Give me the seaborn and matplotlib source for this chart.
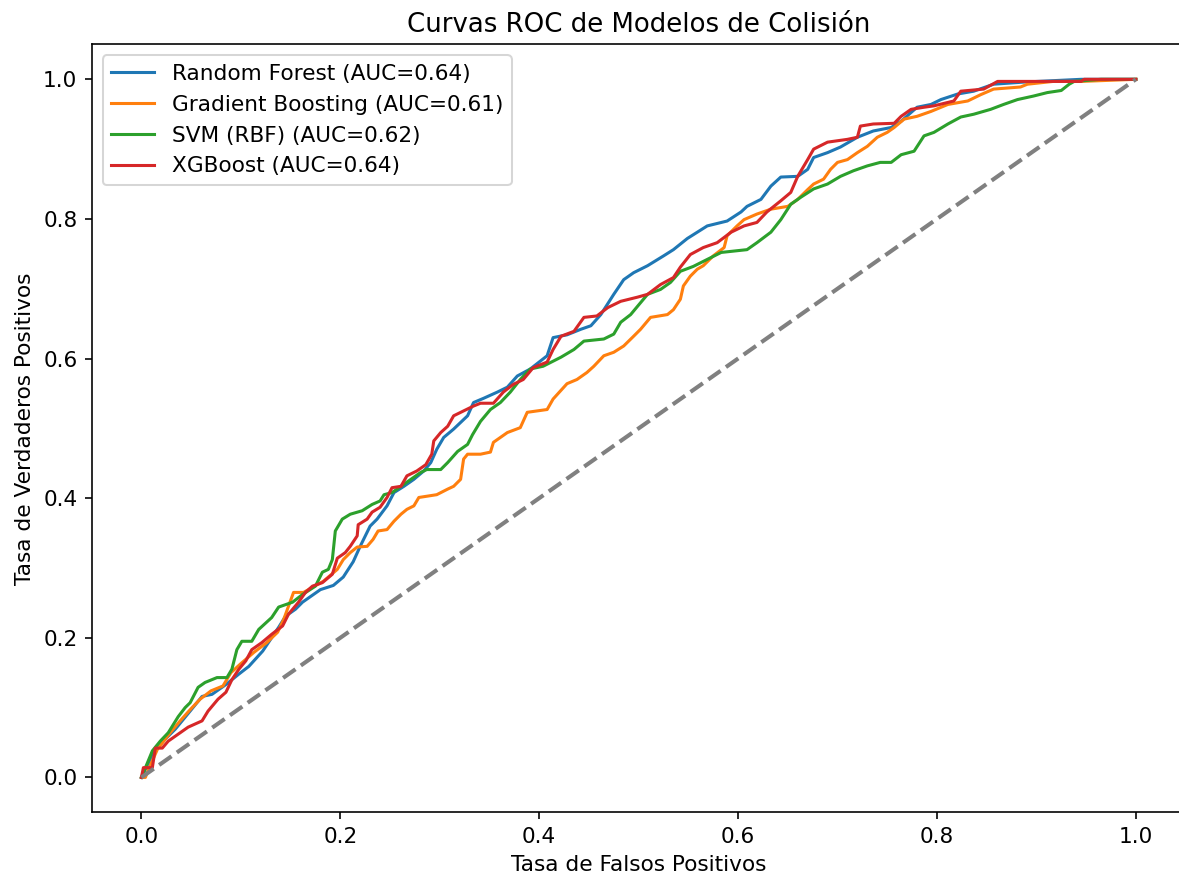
import numpy as np
import pandas as pd
import matplotlib
matplotlib.use("Agg")
import matplotlib.pyplot as plt
import seaborn as sns

plt.rcParams["font.size"] = 10.6

# valores (FPR, TPR) para cada modelo
rf_fpr = [0.0, 0.010, 0.017, 0.034, 0.049, 0.061, 0.071, 0.085, 0.098, 0.108, 0.122, 0.138, 0.145, 0.155,
          0.162, 0.180, 0.193, 0.203, 0.213, 0.220, 0.230, 0.237, 0.247, 0.254, 0.264, 0.274, 0.284, 0.291,
          0.297, 0.304, 0.314, 0.328, 0.334, 0.344, 0.358, 0.368, 0.378, 0.391, 0.408, 0.414, 0.428, 0.442,
          0.452, 0.462, 0.475, 0.485, 0.495, 0.509, 0.525, 0.535, 0.549, 0.569, 0.589, 0.603, 0.609, 0.623,
          0.633, 0.643, 0.660, 0.670, 0.676, 0.690, 0.703, 0.720, 0.736, 0.754, 0.764, 0.780, 0.794, 0.804,
          0.821, 0.837, 0.857, 0.887, 0.945, 1.0]
rf_tpr = [0.0, 0.029, 0.045, 0.069, 0.095, 0.116, 0.119, 0.133, 0.148, 0.159, 0.181, 0.215, 0.231, 0.241,
          0.251, 0.269, 0.275, 0.287, 0.309, 0.331, 0.360, 0.370, 0.389, 0.408, 0.417, 0.427, 0.439, 0.451,
          0.470, 0.487, 0.499, 0.518, 0.537, 0.543, 0.552, 0.559, 0.575, 0.585, 0.604, 0.630, 0.634, 0.642,
          0.647, 0.663, 0.692, 0.713, 0.723, 0.733, 0.747, 0.756, 0.772, 0.790, 0.797, 0.810, 0.818, 0.828,
          0.847, 0.860, 0.861, 0.871, 0.888, 0.895, 0.903, 0.917, 0.926, 0.931, 0.940, 0.960, 0.964, 0.971,
          0.979, 0.983, 0.993, 0.996, 1.0, 1.0]

gb_fpr = [0.0, 0.004, 0.007, 0.016, 0.029, 0.039, 0.049, 0.059, 0.070, 0.082, 0.090, 0.100, 0.113, 0.126,
          0.137, 0.143, 0.153, 0.163, 0.183, 0.197, 0.203, 0.210, 0.217, 0.227, 0.233, 0.238, 0.247, 0.254,
          0.261, 0.267, 0.274, 0.279, 0.297, 0.308, 0.314, 0.321, 0.324, 0.328, 0.341, 0.351, 0.354, 0.368,
          0.381, 0.388, 0.408, 0.414, 0.428, 0.438, 0.448, 0.455, 0.465, 0.475, 0.485, 0.495, 0.502, 0.512,
          0.529, 0.535, 0.542, 0.545, 0.552, 0.559, 0.565, 0.575, 0.586, 0.589, 0.599, 0.606, 0.619, 0.633,
          0.650, 0.660, 0.670, 0.676, 0.686, 0.693, 0.700, 0.710, 0.720, 0.730, 0.740, 0.750, 0.757, 0.767,
          0.780, 0.794, 0.811, 0.831, 0.844, 0.857, 0.884, 0.891, 0.917, 0.945, 1.0]
gb_tpr = [0.0, 0.0, 0.011, 0.040, 0.064, 0.081, 0.097, 0.112, 0.124, 0.131, 0.150, 0.163, 0.179, 0.193,
          0.208, 0.226, 0.265, 0.265, 0.281, 0.298, 0.312, 0.322, 0.330, 0.331, 0.341, 0.353, 0.355, 0.367,
          0.377, 0.384, 0.389, 0.401, 0.405, 0.413, 0.417, 0.427, 0.456, 0.463, 0.463, 0.466, 0.480, 0.494,
          0.501, 0.523, 0.527, 0.542, 0.564, 0.570, 0.580, 0.589, 0.604, 0.609, 0.618, 0.632, 0.642, 0.659,
          0.663, 0.670, 0.685, 0.704, 0.718, 0.728, 0.733, 0.747, 0.759, 0.776, 0.790, 0.799, 0.807, 0.814,
          0.818, 0.828, 0.842, 0.850, 0.857, 0.871, 0.881, 0.885, 0.895, 0.904, 0.917, 0.924, 0.931, 0.943,
          0.947, 0.954, 0.964, 0.969, 0.978, 0.986, 0.989, 0.993, 0.997, 0.997, 1.0]

svm_fpr = [0.0, 0.011, 0.019, 0.027, 0.037, 0.044, 0.049, 0.057, 0.064, 0.076, 0.086, 0.091, 0.096, 0.101,
           0.111, 0.118, 0.131, 0.138, 0.152, 0.162, 0.175, 0.182, 0.188, 0.192, 0.195, 0.202, 0.210, 0.222,
           0.232, 0.240, 0.244, 0.252, 0.261, 0.271, 0.281, 0.287, 0.301, 0.308, 0.318, 0.328, 0.333, 0.341,
           0.351, 0.361, 0.371, 0.381, 0.391, 0.404, 0.422, 0.435, 0.445, 0.465, 0.475, 0.482, 0.492, 0.499,
           0.509, 0.522, 0.532, 0.542, 0.555, 0.569, 0.583, 0.609, 0.619, 0.633, 0.643, 0.653, 0.663, 0.676,
           0.690, 0.703, 0.716, 0.730, 0.743, 0.754, 0.764, 0.777, 0.787, 0.797, 0.811, 0.824, 0.837, 0.854,
           0.867, 0.881, 0.897, 0.911, 0.925, 0.933, 0.938, 0.965, 1.0]
svm_tpr = [0.0, 0.038, 0.052, 0.064, 0.087, 0.100, 0.107, 0.129, 0.136, 0.143, 0.143, 0.155, 0.183, 0.195,
           0.195, 0.212, 0.229, 0.244, 0.251, 0.262, 0.274, 0.294, 0.298, 0.312, 0.353, 0.370, 0.377, 0.382,
           0.391, 0.396, 0.405, 0.408, 0.417, 0.427, 0.437, 0.441, 0.441, 0.451, 0.467, 0.477, 0.491, 0.510,
           0.527, 0.537, 0.552, 0.570, 0.585, 0.589, 0.602, 0.613, 0.625, 0.628, 0.635, 0.652, 0.663, 0.675,
           0.692, 0.699, 0.709, 0.725, 0.732, 0.742, 0.752, 0.756, 0.766, 0.781, 0.799, 0.821, 0.831, 0.843,
           0.850, 0.861, 0.869, 0.876, 0.881, 0.881, 0.892, 0.897, 0.919, 0.924, 0.936, 0.946, 0.950, 0.957,
           0.964, 0.971, 0.976, 0.981, 0.984, 0.993, 0.997, 1.0, 1.0]

xgb_fpr = [0.0, 0.002, 0.011, 0.014, 0.021, 0.027, 0.037, 0.047, 0.061, 0.067, 0.077, 0.085, 0.091, 0.098,
           0.105, 0.111, 0.121, 0.131, 0.142, 0.148, 0.158, 0.165, 0.172, 0.182, 0.192, 0.197, 0.205, 0.210,
           0.217, 0.218, 0.227, 0.232, 0.240, 0.247, 0.252, 0.261, 0.267, 0.277, 0.286, 0.292, 0.294, 0.301,
           0.308, 0.314, 0.324, 0.334, 0.341, 0.354, 0.364, 0.374, 0.384, 0.394, 0.408, 0.414, 0.422, 0.435,
           0.445, 0.458, 0.469, 0.482, 0.499, 0.509, 0.522, 0.535, 0.542, 0.552, 0.565, 0.579, 0.593, 0.606,
           0.619, 0.629, 0.643, 0.653, 0.660, 0.670, 0.676, 0.690, 0.710, 0.720, 0.723, 0.736, 0.757, 0.764,
           0.774, 0.787, 0.797, 0.817, 0.824, 0.847, 0.861, 0.945, 0.948, 1.0]
xgb_tpr = [0.0, 0.014, 0.014, 0.042, 0.042, 0.052, 0.062, 0.072, 0.081, 0.095, 0.112, 0.122, 0.140, 0.155,
           0.167, 0.183, 0.193, 0.205, 0.217, 0.234, 0.251, 0.265, 0.274, 0.279, 0.291, 0.314, 0.322, 0.331,
           0.346, 0.362, 0.370, 0.380, 0.387, 0.401, 0.415, 0.417, 0.432, 0.439, 0.448, 0.463, 0.482, 0.494,
           0.503, 0.518, 0.525, 0.532, 0.536, 0.536, 0.552, 0.563, 0.570, 0.587, 0.595, 0.613, 0.632, 0.639,
           0.659, 0.661, 0.673, 0.682, 0.688, 0.692, 0.706, 0.716, 0.731, 0.749, 0.759, 0.766, 0.781, 0.790,
           0.795, 0.810, 0.826, 0.838, 0.861, 0.885, 0.900, 0.910, 0.914, 0.917, 0.933, 0.936, 0.937, 0.947,
           0.957, 0.960, 0.962, 0.969, 0.983, 0.986, 0.997, 0.997, 1.0, 1.0]

labels = ["Random Forest (AUC=0.64)", "Gradient Boosting (AUC=0.61)",
          "SVM (RBF) (AUC=0.62)", "XGBoost (AUC=0.64)"]
curves = [(rf_fpr, rf_tpr), (gb_fpr, gb_tpr), (svm_fpr, svm_tpr), (xgb_fpr, xgb_tpr)]
colors = sns.color_palette("tab10", 4)

fig = plt.figure(figsize=(1180 / 147, 876 / 147), dpi=147)
ax = fig.add_axes([0.0777, 0.0727, 0.927, 0.8766])

for (fpr, tpr), lab, col in zip(curves, labels, colors):
    sns.lineplot(x=fpr, y=tpr, label=lab, color=col, sort=False, estimator=None, ax=ax, linewidth=1.5)

ax.plot([0, 1], [0, 1], linestyle="--", color="gray", linewidth=2)

ax.set_xlim(-0.05, 1.05)
ax.set_ylim(-0.05, 1.05)
ax.set_title("Curvas ROC de Modelos de Colisión")
ax.set_xlabel("Tasa de Falsos Positivos")
ax.set_ylabel("Tasa de Verdaderos Positivos")
ax.legend(loc="upper left")

fig.savefig("out.png", dpi=147)
